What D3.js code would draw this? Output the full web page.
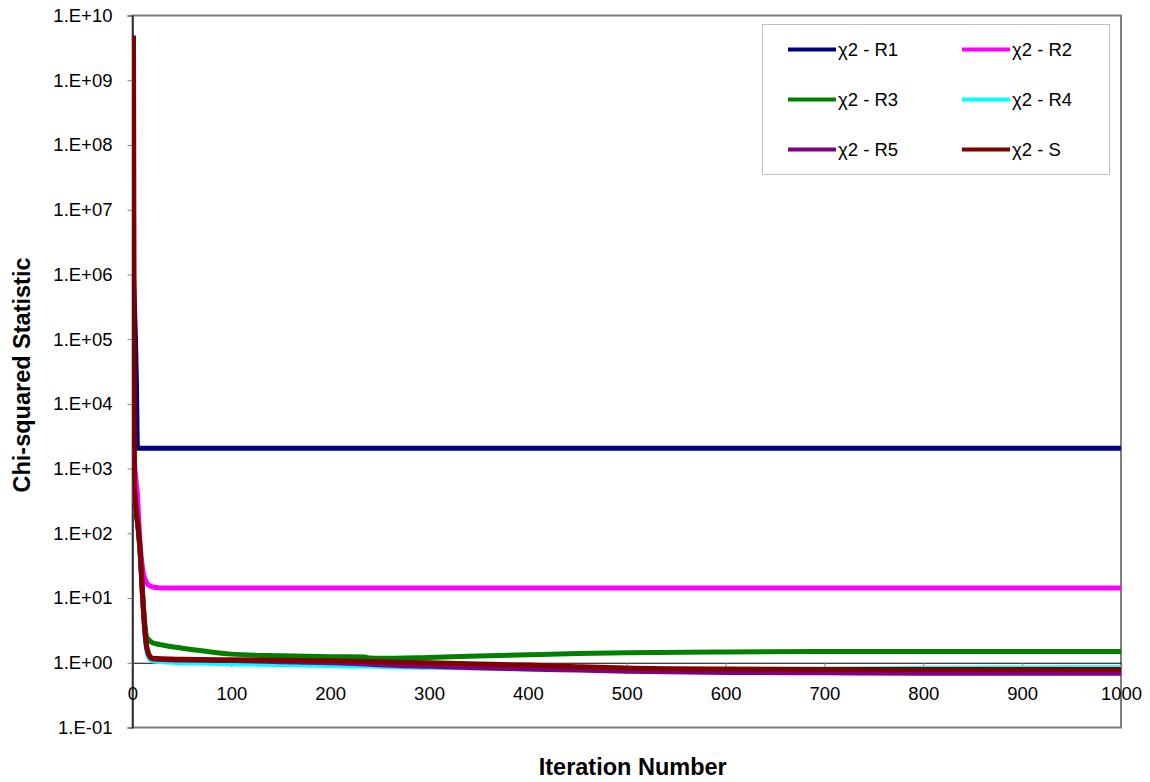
<!DOCTYPE html>
<html>
<head>
<meta charset="utf-8">
<script src="https://cdn.jsdelivr.net/npm/d3@7"></script>
<style>
    body { margin: 0; background: #fff; }
    svg { display: block; font-family: "Liberation Sans", Arial, sans-serif; }
</style>
</head>
<body>
<script>
// iteration numbers where values were read
var iterations = [1, 2, 3, 4, 5, 6, 8, 10, 12, 14, 16, 18, 20, 25, 30, 40, 50, 70, 100, 150, 200, 235, 240, 250, 300, 350, 400, 450, 500, 600, 700, 800, 900, 1000];

var r1 = [1e6, 3e5, 1e5, 2e4, 2100, 2060, 2060, 2060, 2060, 2060, 2060, 2060, 2060, 2060, 2060, 2060, 2060, 2060, 2060, 2060, 2060, 2060, 2060, 2060, 2060, 2060, 2060, 2060, 2060, 2060, 2060, 2060, 2060, 2060];
var r2 = [2000, 1200, 800, 550, 400, 200, 60, 30, 21, 17.5, 16, 15.3, 14.9, 14.5, 14.3, 14.3, 14.3, 14.3, 14.3, 14.3, 14.3, 14.3, 14.3, 14.3, 14.3, 14.3, 14.3, 14.3, 14.3, 14.3, 14.3, 14.3, 14.3, 14.3];
var r3 = [1200, 480, 320, 220, 160, 115, 48, 14, 5, 2.6, 2.3, 2.15, 2.05, 1.95, 1.88, 1.77, 1.68, 1.53, 1.36, 1.28, 1.24, 1.23, 1.18, 1.17, 1.21, 1.27, 1.33, 1.39, 1.43, 1.47, 1.49, 1.5, 1.5, 1.5];
var r4 = [700, 400, 280, 190, 140, 100, 40, 11, 3.6, 1.7, 1.25, 1.12, 1.08, 1.05, 1.04, 1.02, 1.0, 0.99, 0.97, 0.94, 0.91, 0.89, 0.89, 0.88, 0.85, 0.83, 0.81, 0.79, 0.78, 0.79, 0.8, 0.82, 0.83, 0.84];
var r5 = [1500, 500, 320, 210, 150, 110, 45, 12, 4, 1.9, 1.4, 1.2, 1.15, 1.13, 1.12, 1.11, 1.1, 1.09, 1.08, 1.04, 1.0, 0.96, 0.95, 0.93, 0.88, 0.84, 0.8, 0.77, 0.74, 0.71, 0.7, 0.69, 0.69, 0.69];
var s  = [4.9e9, 460, 300, 200, 150, 110, 45, 12, 4, 1.9, 1.4, 1.25, 1.18, 1.16, 1.15, 1.14, 1.13, 1.12, 1.11, 1.09, 1.07, 1.05, 1.05, 1.04, 1.0, 0.96, 0.92, 0.87, 0.83, 0.8, 0.79, 0.79, 0.79, 0.79];

var seriesNames = ["\u03c72 - R1", "\u03c72 - R2", "\u03c72 - R3", "\u03c72 - R4", "\u03c72 - R5", "\u03c72 - S"];
var seriesColors = ["#000080", "#ff00ff", "#008000", "#00ffff", "#800080", "#800000"];
var seriesValues = [r1, r2, r3, r4, r5, s];

var xTicks = [0, 100, 200, 300, 400, 500, 600, 700, 800, 900, 1000];
var yExponents = [-1, 0, 1, 2, 3, 4, 5, 6, 7, 8, 9, 10];

var width = 1150, height = 782;
var plot = { left: 132.5, right: 1121, top: 15.5, bottom: 727.5 };

var svg = d3.select("body")
    .append("svg")
    .attr("width", width)
    .attr("height", height);

var x = d3.scaleLinear()
    .domain([0, 1000])
    .range([plot.left, plot.right]);

var y = d3.scaleLog()
    .domain([0.1, 1e10])
    .range([plot.bottom, plot.top]);

function expLabel(e) {
    var a = Math.abs(e);
    return "1.E" + (e < 0 ? "-" : "+") + (a < 10 ? "0" + a : a);
}

// plot border (grey), left side is the black y axis
svg.append("rect")
    .attr("x", plot.left)
    .attr("y", plot.top)
    .attr("width", plot.right - plot.left)
    .attr("height", plot.bottom - plot.top)
    .attr("fill", "none")
    .attr("stroke", "#808080")
    .attr("stroke-width", 2);

// Y-as
var yAxis = svg.append("g")
    .attr("transform", "translate(" + plot.left + ",0)")
    .call(d3.axisLeft(y)
        .tickValues(yExponents.map(function(e) { return Math.pow(10, e); }))
        .tickFormat(function(d) { return expLabel(Math.round(Math.log10(d))); })
        .tickSize(5)
        .tickPadding(15));
yAxis.select(".domain").attr("stroke", "#000").attr("stroke-width", 1.2);
yAxis.selectAll(".tick line").attr("stroke", "#808080");
yAxis.selectAll("text")
    .style("font-size", "18.5px")
    .style("font-family", "'Liberation Sans', Arial, sans-serif")
    .attr("fill", "#000");

// X-as at chi2 = 1
var xAxis = svg.append("g")
    .attr("transform", "translate(0," + y(1) + ")")
    .call(d3.axisBottom(x)
        .tickValues(xTicks)
        .tickFormat(d3.format("d"))
        .tickSize(5)
        .tickPadding(19));
xAxis.select(".domain").attr("stroke", "#000").attr("stroke-width", 1.2);
xAxis.selectAll(".tick line").attr("stroke", "#808080");
xAxis.selectAll("text")
    .style("font-size", "18.5px")
    .style("font-family", "'Liberation Sans', Arial, sans-serif")
    .attr("fill", "#000");

svg.append("clipPath")
    .attr("id", "clip")
    .append("rect")
    .attr("x", plot.left)
    .attr("y", plot.top)
    .attr("width", plot.right - plot.left + 3)
    .attr("height", plot.bottom - plot.top);

var line = d3.line()
    .x(function(d, i) { return x(iterations[i]); })
    .y(function(d) { return y(d); })
    .curve(d3.curveMonotoneX);

svg.append("g")
    .attr("clip-path", "url(#clip)")
    .selectAll("path")
    .data(seriesValues)
    .enter()
    .append("path")
    .attr("d", line)
    .attr("fill", "none")
    .attr("stroke", function(d, i) { return seriesColors[i]; })
    .attr("stroke-width", 5)
    .attr("stroke-linejoin", "round");

// legend
var legend = svg.append("g");
legend.append("rect")
    .attr("x", 762.5)
    .attr("y", 24.5)
    .attr("width", 347)
    .attr("height", 150)
    .attr("fill", "#fff")
    .attr("stroke", "#c0c0c0");

var items = legend.selectAll(".item")
    .data(seriesNames)
    .enter()
    .append("g")
    .attr("class", "item")
    .attr("transform", function(d, i) {
        return "translate(" + (i % 2 === 0 ? 788 : 962) + "," + (49.5 + Math.floor(i / 2) * 50) + ")";
    });

items.append("line")
    .attr("x1", 0)
    .attr("x2", 48)
    .attr("stroke", function(d, i) { return seriesColors[i]; })
    .attr("stroke-width", 4);

items.append("text")
    .attr("x", 50)
    .attr("y", 6.5)
    .style("font-size", "18.5px")
    .text(function(d) { return d; });

// axis titles
svg.append("text")
    .attr("x", (plot.left + plot.right) / 2 + 6)
    .attr("y", 775)
    .attr("text-anchor", "middle")
    .style("font-size", "23.5px")
    .style("font-weight", "bold")
    .text("Iteration Number");

svg.append("text")
    .attr("transform", "translate(30," + 375 + ") rotate(-90)")
    .attr("text-anchor", "middle")
    .style("font-size", "23.5px")
    .style("font-weight", "bold")
    .text("Chi-squared Statistic");
</script>
</body>
</html>
